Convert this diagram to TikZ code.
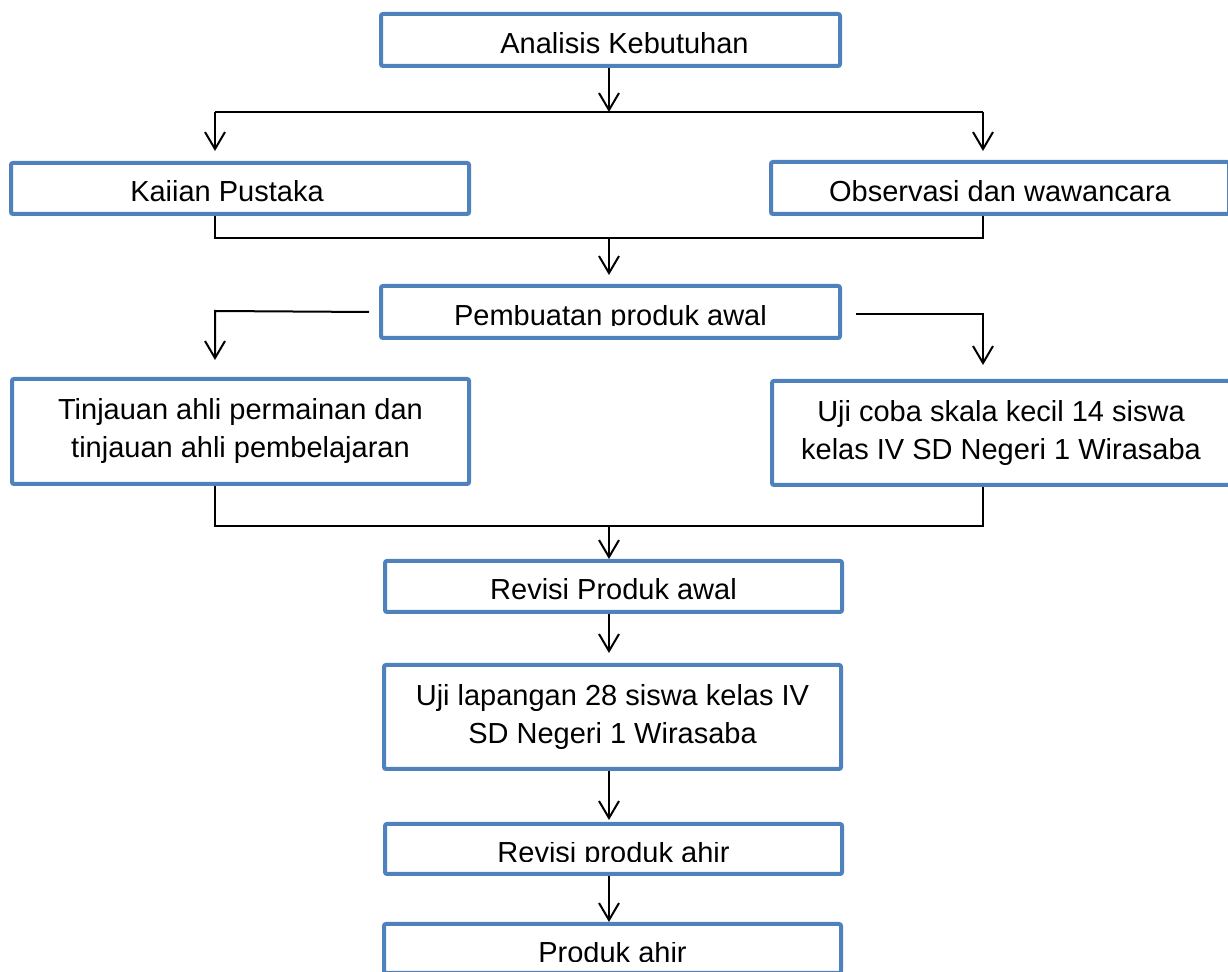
\documentclass[tikz,border=0pt]{standalone}
\usepackage{fontspec}
\setmainfont{Liberation Sans}
\usetikzlibrary{arrows.meta}
\definecolor{boxblue}{RGB}{79,129,189}
\newsavebox\cutbox
\newcommand\cutbase[1]{\sbox\cutbox{#1}\tikz[baseline=0pt]{%
  \useasboundingbox (0pt,0pt) rectangle (\wd\cutbox,\ht\cutbox);
  \clip (0pt,0.4pt) rectangle (\wd\cutbox,\ht\cutbox);
  \pgftext[base,left]{\usebox\cutbox}}}
\begin{document}
\begin{tikzpicture}[x=0.5pt,y=-0.5pt,
  box/.style={draw=boxblue,line width=2pt,rounded corners=1pt,fill=white,
    inner sep=0pt,font=\fontsize{14.5pt}{19pt}\selectfont},
  one/.style={box,text height=#1,text depth=0pt},
  one/.default=13.5pt,
  two/.style={box,align=center},
  conn/.style={line width=1pt,black},
  arr/.style={conn,-{Straight Barb[length=8.5pt,width=10pt]}}]
\useasboundingbox (0,0) rectangle (1228,972);
\clip (0,0) rectangle (1228,972);
\fill[white] (0,0) rectangle (1228,972);

% boxes
\node[one=14pt,minimum width=229.5pt,minimum height=26pt] (A) at (610.5,40) {\kern14pt Analisis Kebutuhan};
\node[one,minimum width=229pt,minimum height=25.5pt] (K) at (240,188.5) {Kaiian Pustaka\kern13pt};
\node[one,minimum width=229pt,minimum height=26pt] (O) at (1000,188) {Observasi dan wawancara};
\node[one=14pt,minimum width=229.5pt,minimum height=26pt] (P) at (610.5,312) {\cutbase{Pembuatan produk awal}};
\node[two,minimum width=228.5pt,minimum height=52.5pt] (T) at (240.5,431.5) {Tinjauan ahli permainan dan\\tinjauan ahli pembelajaran};
\node[two,minimum width=229pt,minimum height=52pt] (U) at (1001,433) {Uji coba skala kecil 14 siswa\\kelas IV SD Negeri 1 Wirasaba};
\node[one,minimum width=228.5pt,minimum height=25.5pt] (R1) at (613.5,586.5) {Revisi Produk awal};
\node[two,minimum width=228.5pt,minimum height=52pt] (L) at (612.5,717) {Uji lapangan 28 siswa kelas IV\\SD Negeri 1 Wirasaba};
\node[one,minimum width=228.5pt,minimum height=25pt] (R2) at (613.5,849) {\cutbase{Revisi produk ahir}};
\node[one=14pt,minimum width=228.5pt,minimum height=24.5pt] (PA) at (612.5,948.5) {\cutbase{Produk ahir}};

% junction coordinates
\coordinate (j1) at (609,112);
\coordinate (b1L) at (215,112);
\coordinate (b1R) at (983,112);
\coordinate (b2L) at (215,238);
\coordinate (b2R) at (983,238);
\coordinate (b2M) at (609,238);
\coordinate (pl) at (215,311);
\coordinate (pr) at (983,314);
\coordinate (b3L) at (215,526);
\coordinate (b3R) at (983,526);
\coordinate (b3M) at (609,526);

% connectors
\draw[arr] (A.south -| j1) -- (j1);
\draw[conn] (b1L) -- (b1R);
\draw[arr,shorten >=5pt] (b1L) -- (b1L |- K.north);
\draw[arr,shorten >=4.5pt] (b1R) -- (b1R |- O.north);

\draw[conn] (K.south -| b2L) -- (b2L) -- (b2R) -- (O.south -| b2R);
\draw[arr,shorten >=4.5pt] (b2M) -- (P.north -| b2M);

\draw[arr,shorten >=8.5pt] ([xshift=-5pt]P.west) -- (pl) -- (pl |- T.north);
\draw[arr,shorten >=7pt] ([xshift=7pt,yshift=-1pt]P.east) -- (pr) -- (pr |- U.north);

\draw[conn] (T.south -| b3L) -- (b3L) -- (b3R) -- (U.south -| b3R);
\draw[arr] (b3M) -- (R1.north -| b3M);

\draw[arr,shorten >=5pt] (R1.south -| b3M) -- (L.north -| b3M);
\draw[arr,shorten >=1pt] (L.south -| b3M) -- (R2.north -| b3M);
\draw[arr] (R2.south -| b3M) -- (PA.north -| b3M);
\end{tikzpicture}
\end{document}
